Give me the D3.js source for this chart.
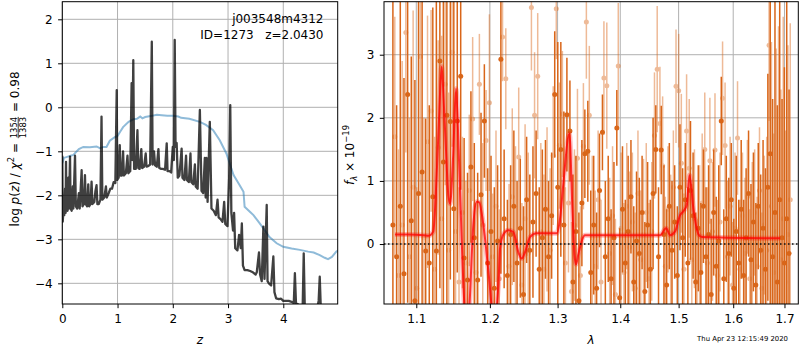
<!DOCTYPE html>
<html>
<head>
<meta charset="utf-8">
<script src="https://d3js.org/d3.v7.min.js"></script>
<style>
  body { margin: 0; background: #fff; }
  text { font-family: "DejaVu Sans", sans-serif; }
</style>
</head>
<body>
<svg id="chart" width="800" height="350"></svg>
<script>
// ---------- redshift probability panel ----------
const zPz = [0.000,0.008,0.020,0.035,0.050,0.060,0.067,0.075,0.095,0.110,0.120,0.140,0.150,0.170,0.190,0.200,0.230,0.245,0.270,0.300,
  0.315,0.350,0.365,0.390,0.410,0.425,0.450,0.470,0.485,0.510,0.530,0.545,0.580,0.600,0.620,0.635,0.660,0.690,0.710,0.725,
  0.760,0.790,0.805,0.840,0.870,0.900,0.930,0.960,0.985,0.995,1.020,1.040,1.055,1.080,1.100,1.115,1.150,1.180,1.195,1.230,
  1.255,1.265,1.285,1.300,1.330,1.360,1.375,1.400,1.430,1.445,1.480,1.510,1.525,1.560,1.590,1.620,1.635,1.660,1.680,1.710,
  1.740,1.755,1.790,1.820,1.860,1.890,1.905,1.940,1.970,2.000,2.020,2.035,2.050,2.070,2.090,2.120,2.160,2.175,2.210,2.240,
  2.255,2.290,2.320,2.335,2.370,2.400,2.415,2.450,2.490,2.505,2.520,2.550,2.580,2.595,2.610,2.630,2.670,2.685,2.700,2.740,
  2.780,2.810,2.830,2.870,2.900,2.930,2.950,2.990,3.020,3.040,3.060,3.090,3.110,3.130,3.170,3.200,3.230,3.250,3.270,3.300,
  3.350,3.400,3.450,3.500,3.520,3.560,3.580,3.610,3.640,3.660,3.700,3.715,3.740,3.780,3.820,3.840,3.870,3.920,3.960,4.000,
  4.100,4.150,4.190,4.210,4.230,4.270,4.300,4.350,4.370,4.390,4.450,4.500,4.550,4.600,4.640,4.660,4.680,4.720,4.780,4.850,4.950];
const logPz = [-1.10,-2.60,-2.35,-2.45,-1.85,-2.40,-1.24,-2.30,-2.35,-1.60,-2.30,-1.12,-2.30,-2.35,-1.80,-2.30,-1.10,-2.25,-2.30,-1.95,
  -2.30,-1.43,-2.25,-2.20,-1.54,-2.20,-2.25,-1.75,-2.25,-2.20,-1.69,-2.20,-2.15,-1.90,-1.77,-2.20,-2.20,-2.10,-0.21,-2.10,
  -2.05,-1.80,-2.05,-1.95,-1.85,-1.85,-1.70,-1.72,0.39,-1.65,-1.60,-0.86,-1.55,-1.55,-1.00,-1.55,-1.50,-1.10,-1.50,-1.45,
  0.55,-1.20,1.07,-1.40,-1.40,-0.52,-1.38,-1.40,-0.95,-1.38,-1.35,-1.05,-1.35,-1.33,-1.30,1.49,-1.30,-1.00,-1.32,-1.35,
  -0.95,-1.38,-1.40,-1.40,-1.42,-0.82,-1.45,-1.45,-1.48,-0.90,-1.20,1.53,-0.90,-0.81,-1.60,-1.55,-0.94,-1.60,-1.65,-1.10,
  -1.65,-1.70,-1.05,-1.70,-1.75,-1.30,-1.80,-1.85,-0.06,-1.00,-1.90,-1.95,-1.15,-2.05,-1.15,-2.15,-0.33,-1.30,-2.30,-2.35,
  -2.45,-2.10,-2.50,-2.55,-2.60,-2.15,-2.65,-2.70,-1.60,0.05,-2.40,-2.80,-2.40,-3.20,-3.25,-2.90,-3.20,-2.64,-3.60,-3.70,
  -3.70,-3.72,-3.75,-3.80,-3.75,-3.30,-3.80,-3.95,-2.71,-3.90,-2.22,-3.95,-4.00,-4.05,-3.39,-4.20,-4.34,-4.36,-4.35,-4.40,
  -4.40,-4.42,-4.45,-3.77,-4.45,-4.48,-4.55,-4.60,-3.32,-4.60,-4.70,-4.80,-4.70,-4.65,-4.40,-3.85,-4.60,-4.80,-4.90,-5.00,-5.10];

const zPrior = [0.00,0.03,0.10,0.15,0.20,0.30,0.38,0.50,0.62,0.68,0.75,0.80,0.86,0.95,1.00,1.05,1.10,1.20,1.29,1.35,
  1.41,1.45,1.50,1.60,1.71,1.80,1.90,2.00,2.10,2.15,2.30,2.49,2.60,2.73,2.85,2.97,3.05,3.10,3.20,3.28,
  3.30,3.40,3.46,3.55,3.64,3.75,3.88,4.00,4.15,4.30,4.45,4.55,4.66,4.75,4.81,4.88,4.96,5.00];
const logPrior = [-1.27,-1.15,-1.12,-1.10,-1.08,-0.95,-0.90,-0.91,-0.89,-0.93,-0.90,-0.90,-0.76,-0.68,-0.65,-0.55,-0.45,-0.33,-0.27,-0.26,
  -0.21,-0.25,-0.22,-0.20,-0.17,-0.18,-0.19,-0.19,-0.21,-0.24,-0.26,-0.33,-0.40,-0.52,-0.75,-1.05,-1.35,-1.54,-1.75,-1.92,
  -2.26,-2.38,-2.45,-2.60,-2.75,-2.95,-3.09,-3.17,-3.21,-3.24,-3.28,-3.30,-3.36,-3.42,-3.45,-3.40,-3.28,-3.25];

const zTicks = [0, 1, 2, 3, 4];
const pzTicks = [-4, -3, -2, -1, 0, 1, 2];

// ---------- spectrum panel ----------
const wlA = [1.0700,1.0747,1.0794,1.0841,1.0888,1.0935,1.0982,1.1029,1.1076,1.1123,1.1170,1.1217,1.1264,1.1311,1.1358,1.1405,1.1452,1.1499,1.1546,1.1593,
  1.1640,1.1687,1.1734,1.1781,1.1828,1.1875,1.1922,1.1969,1.2016,1.2063,1.2110,1.2157,1.2204,1.2251,1.2298,1.2345,1.2392,1.2439,1.2486,1.2533,
  1.2580,1.2627,1.2674,1.2721,1.2768,1.2815,1.2862,1.2909,1.2956,1.3003,1.3050,1.3097,1.3144,1.3191,1.3238,1.3285,1.3332,1.3379,1.3426,1.3473,
  1.3520,1.3567,1.3614,1.3661,1.3708,1.3755,1.3802,1.3849,1.3896,1.3943,1.3990,1.4037,1.4084,1.4131,1.4178,1.4225,1.4272,1.4319,1.4366,1.4413,
  1.4460,1.4507,1.4554,1.4601,1.4648,1.4695,1.4742,1.4789,1.4836,1.4883,1.4930,1.4977,1.5024,1.5071,1.5118,1.5165,1.5212,1.5259,1.5306,1.5353,
  1.5400,1.5447,1.5494,1.5541,1.5588,1.5635,1.5682,1.5729,1.5776,1.5823,1.5870,1.5917,1.5964,1.6011,1.6058,1.6105,1.6152,1.6199,1.6246,1.6293,
  1.6340,1.6387,1.6434,1.6481,1.6528,1.6575,1.6622,1.6669,1.6716,1.6763,1.6810,1.6857,1.6904,1.6951,1.6998,1.7045,1.7092];
const fluxA = [0.30,-0.20,0.60,-0.47,2.37,0.37,-0.90,0.80,1.14,-0.11,-0.30,0.75,-0.11,2.90,1.30,2.04,1.94,0.56,1.95,2.66,
  -0.22,-0.57,1.22,0.10,-0.57,0.78,1.95,-0.30,0.20,-0.70,0.05,2.93,0.40,-0.50,0.15,0.60,-0.30,0.25,-0.80,0.70,
  -0.10,0.35,0.80,-0.40,0.10,0.55,-0.20,0.45,2.37,0.90,1.50,0.30,2.05,1.79,-0.60,0.20,-0.90,0.65,1.43,1.47,
  -0.45,0.30,-0.70,0.85,1.77,-0.20,0.40,-0.55,0.10,1.84,-0.85,0.55,-0.30,0.20,0.75,-0.60,0.05,-0.15,0.50,-0.75,
  0.30,-0.40,0.80,1.50,-0.20,1.49,0.15,-0.65,0.60,-0.10,0.35,-0.50,0.90,0.10,0.70,-0.30,0.85,0.45,-0.60,0.25,
  -0.45,0.60,-0.20,0.15,-0.80,0.50,-0.35,0.05,1.95,-0.55,0.40,-0.15,0.70,-0.70,0.20,-0.30,0.55,-0.50,0.10,0.80,
  -0.25,0.35,-0.65,0.60,-0.10,0.25,-0.40,0.90,1.43,-0.20,0.50,-0.60,0.70,0.10,-0.30,0.40,-0.15];
const errA = [3.8,2.4,3.9,3.1,3.3,2.6,3.5,3.2,3.9,2.1,2.5,3.0,4.1,3.6,3.3,3.0,2.5,3.6,2.4,1.8,
  1.9,1.7,1.2,1.5,1.7,1.3,0.9,1.5,1.2,1.6,1.2,3.4,1.1,1.2,1.1,1.2,1.3,1.1,1.4,1.0,
  1.2,1.2,1.0,1.3,1.4,1.1,1.2,1.0,1.0,2.3,1.7,1.8,0.9,0.8,1.7,1.2,1.4,1.0,0.7,0.8,
  1.3,1.1,1.2,0.9,0.6,1.2,1.0,1.1,1.2,0.6,1.1,1.0,1.0,1.2,0.9,1.2,1.1,1.2,0.9,1.1,
  1.0,1.1,1.2,0.7,1.1,0.7,1.1,1.2,1.0,1.1,0.9,1.1,1.0,1.1,0.9,1.2,1.1,1.0,1.1,1.0,
  1.1,0.9,1.1,1.1,1.2,1.0,1.1,1.2,0.7,1.1,1.0,1.2,0.9,1.1,1.2,1.0,1.1,1.2,1.1,1.0,
  1.2,1.1,1.3,1.0,1.2,1.4,1.6,1.8,3.0,2.5,3.4,2.8,3.6,2.2,3.1,3.5,2.6];

const wlB = [1.0724,1.0771,1.0818,1.0865,1.0912,1.0959,1.1006,1.1053,1.1100,1.1147,1.1194,1.1241,1.1288,1.1335,1.1382,1.1429,1.1476,1.1523,1.1570,1.1617,
  1.1664,1.1711,1.1758,1.1805,1.1852,1.1899,1.1946,1.1993,1.2040,1.2087,1.2134,1.2181,1.2228,1.2275,1.2322,1.2369,1.2416,1.2463,1.2510,1.2557,
  1.2604,1.2651,1.2698,1.2745,1.2792,1.2839,1.2886,1.2933,1.2980,1.3027,1.3074,1.3121,1.3168,1.3215,1.3262,1.3309,1.3356,1.3403,1.3450,1.3497,
  1.3544,1.3591,1.3638,1.3685,1.3732,1.3779,1.3826,1.3873,1.3920,1.3967,1.4014,1.4061,1.4108,1.4155,1.4202,1.4249,1.4296,1.4343,1.4390,1.4437,
  1.4484,1.4531,1.4578,1.4625,1.4672,1.4719,1.4766,1.4813,1.4860,1.4907,1.4954,1.5001,1.5048,1.5095,1.5142,1.5189,1.5236,1.5283,1.5330,1.5377,
  1.5424,1.5471,1.5518,1.5565,1.5612,1.5659,1.5706,1.5753,1.5800,1.5847,1.5894,1.5941,1.5988,1.6035,1.6082,1.6129,1.6176,1.6223,1.6270,1.6317,
  1.6364,1.6411,1.6458,1.6505,1.6552,1.6599,1.6646,1.6693,1.6740,1.6787,1.6834,1.6881,1.6928,1.6975,1.7022,1.7069,1.7116];
const fluxB = [1.70,-0.50,0.30,3.35,-0.20,0.90,-0.70,2.97,0.10,1.62,2.11,-0.40,1.53,0.40,2.53,-0.10,3.04,0.20,-0.60,0.50,
  -0.30,0.85,1.98,-0.45,2.53,0.30,1.64,2.24,-0.20,0.60,-0.55,3.28,2.62,-0.35,0.75,0.05,1.38,-0.65,0.40,-0.15,
  3.75,2.04,2.66,0.20,-0.40,0.55,-0.10,1.40,3.73,1.56,2.06,-0.30,0.65,-0.75,0.30,1.36,-0.50,1.55,3.52,2.04,
  0.10,-0.35,0.70,-0.60,2.63,2.51,-0.15,0.45,-0.80,2.82,0.25,-0.45,0.60,-0.05,0.35,-0.70,0.80,-0.25,0.15,0.50,
  -0.55,0.20,1.72,2.77,1.91,1.24,-0.35,0.55,-0.10,0.90,2.50,2.43,1.28,-0.40,1.79,1.20,-0.25,0.40,-0.60,0.05,
  0.65,1.50,-0.30,1.32,0.20,1.49,-0.50,0.35,2.31,1.56,-0.20,0.60,-0.65,0.25,1.68,-0.40,0.45,-0.15,0.75,-0.55,
  0.10,0.50,-0.35,0.85,-0.70,0.30,-0.10,3.15,0.60,-0.45,0.20,0.95,-0.25,0.40,-0.60,0.15,0.70];
const errB = [1.9,2.0,2.6,1.9,2.2,2.8,1.6,2.2,1.9,2.0,1.6,2.1,1.7,2.9,1.6,2.5,1.5,2.2,1.5,1.2,
  1.3,1.2,1.3,1.1,0.8,1.3,0.8,1.4,1.0,1.2,1.1,0.7,0.8,1.3,1.4,1.5,1.1,1.3,1.5,1.6,
  1.0,1.0,1.0,1.4,1.5,1.3,1.3,1.1,0.8,1.0,1.0,1.2,1.1,1.1,1.2,1.1,1.1,1.0,0.9,1.1,
  1.3,1.2,1.1,1.3,0.9,1.0,1.2,1.1,1.2,1.0,1.2,1.1,1.0,1.2,1.1,1.2,1.0,1.1,1.2,1.1,
  1.2,1.1,1.0,1.0,0.9,1.1,1.1,1.0,1.2,0.9,0.9,0.9,1.1,1.2,0.9,1.1,1.2,1.1,1.0,1.2,
  1.1,0.9,1.2,1.0,1.1,0.9,1.2,1.1,0.9,1.0,1.2,1.1,1.0,1.2,0.9,1.1,1.0,1.2,0.9,1.1,
  1.2,1.0,1.1,1.0,1.2,1.1,1.8,1.2,2.6,2.2,2.9,2.5,2.7,3.2,2.4,3.0,2.8];

const modelWl = [1.0726,1.0900,1.1100,1.1157,1.1223,1.1268,1.1300,1.1335,1.1365,1.1393,1.1425,1.1448,1.1490,1.1529,1.1565,1.1607,1.1652,1.1690,1.1712,1.1767,
  1.1815,1.1850,1.1885,1.1930,1.1978,1.2059,1.2121,1.2145,1.2192,1.2264,1.2337,1.2411,1.2460,1.2509,1.2583,1.2683,1.2988,1.3039,1.3090,1.3183,
  1.3229,1.3261,1.3287,1.3323,1.3428,1.4675,1.4780,1.4850,1.4938,1.5027,1.5085,1.5146,1.5194,1.5267,1.5358,1.5419,1.6913];
const modelFlux = [0.15,0.15,0.14,0.13,0.20,1.09,2.00,2.81,2.20,1.49,0.77,0.64,1.40,2.46,1.50,0.06,-1.10,-1.30,-1.00,0.30,
  0.67,0.66,0.48,0.10,-0.42,-1.20,-0.66,-0.07,0.15,0.22,0.19,-0.13,-0.23,-0.13,0.11,0.17,0.17,0.41,0.97,1.75,
  0.58,-0.16,-0.32,-0.16,0.14,0.14,0.25,0.14,0.20,0.46,0.52,0.62,1.09,0.54,0.15,0.11,0.09];

const wlTicks = [1.1, 1.2, 1.3, 1.4, 1.5, 1.6, 1.7];
const fluxTicks = [0, 1, 2, 3];

// ---------- drawing ----------
const svg = d3.select("#chart");
const FS = 12;
const gridColor = "#b0b0b0";
const orange = "#d9661a";

const L = { x0: 62.3, x1: 337.7, y0: 1.7, y1: 304 };
const R = { x0: 384, x1: 798.3, y0: 1.7, y1: 304 };

const xL = d3.scaleLinear().domain([0, 4.985]).range([L.x0, L.x1]);
const yL = d3.scaleLinear().domain([-4.47, 2.40]).range([L.y1, L.y0]);
const xR = d3.scaleLog().domain([1.0588, 1.728]).range([R.x0, R.x1]);
const yR = d3.scaleLinear().domain([-0.95, 3.84]).range([R.y1, R.y0]);

const defs = svg.append("defs");
function clip(id, b) {
  defs.append("clipPath").attr("id", id).append("rect")
    .attr("x", b.x0).attr("y", b.y0).attr("width", b.x1 - b.x0).attr("height", b.y1 - b.y0);
}
clip("clipL", L); clip("clipR", R);

function grid(b, xs, xv, ys, yv) {
  const g = svg.append("g");
  g.selectAll(".gx").data(xv).enter().append("line")
    .attr("x1", d => xs(d)).attr("x2", d => xs(d)).attr("y1", b.y0).attr("y2", b.y1)
    .attr("stroke", gridColor).attr("stroke-width", 1);
  g.selectAll(".gy").data(yv).enter().append("line")
    .attr("y1", d => ys(d)).attr("y2", d => ys(d)).attr("x1", b.x0).attr("x2", b.x1)
    .attr("stroke", gridColor).attr("stroke-width", 1);
}
grid(L, xL, zTicks, yL, pzTicks);
grid(R, xR, wlTicks, yR, fluxTicks);

// left panel curves
const gL = svg.append("g").attr("clip-path", "url(#clipL)");
gL.append("path")
  .datum(zPrior.map((z, i) => [z, logPrior[i]]))
  .attr("d", d3.line().x(d => xL(d[0])).y(d => yL(d[1])))
  .attr("fill", "none").attr("stroke", "#1f77b4").attr("stroke-opacity", 0.5)
  .attr("stroke-width", 2);
gL.append("path")
  .datum(zPz.map((z, i) => [z, logPz[i]]))
  .attr("d", d3.line().x(d => xL(d[0])).y(d => yL(d[1])))
  .attr("fill", "none").attr("stroke", "#000").attr("stroke-opacity", 0.75)
  .attr("stroke-width", 2.3).attr("stroke-linejoin", "round");

// right panel spectra
const gR = svg.append("g").attr("clip-path", "url(#clipR)");
function spectrum(wl, fl, er, opacity) {
  const pts = wl.map((w, i) => ({ w, f: fl[i], e: er[i] }));
  const g = gR.append("g").attr("opacity", opacity);
  g.selectAll("line").data(pts).enter().append("line")
    .attr("x1", d => xR(d.w)).attr("x2", d => xR(d.w))
    .attr("y1", d => yR(d.f - d.e)).attr("y2", d => yR(d.f + d.e))
    .attr("stroke", orange).attr("stroke-width", 1.5);
  g.selectAll("circle").data(pts).enter().append("circle")
    .attr("cx", d => xR(d.w)).attr("cy", d => yR(d.f)).attr("r", 2.5)
    .attr("fill", orange);
}
spectrum(wlA, fluxA, errA, 1);
spectrum(wlB, fluxB, errB, 0.45);

const modelPts = modelWl.map((w, i) => [w, modelFlux[i]]);
const modelLine = d3.line().x(d => xR(d[0])).y(d => yR(d[1])).curve(d3.curveMonotoneX);
gR.append("path").datum(modelPts).attr("d", modelLine)
  .attr("fill", "none").attr("stroke", "#ff0000").attr("stroke-opacity", 0.25).attr("stroke-width", 5);
gR.append("path").datum(modelPts).attr("d", modelLine)
  .attr("fill", "none").attr("stroke", "#ff0000").attr("stroke-opacity", 0.75).attr("stroke-width", 2);

gR.append("line")
  .attr("x1", R.x0).attr("x2", R.x1).attr("y1", yR(0)).attr("y2", yR(0))
  .attr("stroke", "#111").attr("stroke-width", 1.5).attr("stroke-dasharray", "1.5,2.5");

// axes
function axes(b, xs, xv, xfmt, ys, yv) {
  const ax = svg.append("g").attr("transform", `translate(0,${b.y1})`)
    .call(d3.axisBottom(xs).tickValues(xv).tickFormat(xfmt).tickSize(4.2).tickPadding(6.5));
  const ay = svg.append("g").attr("transform", `translate(${b.x0},0)`)
    .call(d3.axisLeft(ys).tickValues(yv).tickFormat(d3.format("d")).tickSize(4.2).tickPadding(5.5));
  [ax, ay].forEach(a => {
    a.select(".domain").remove();
    a.selectAll("text").attr("font-size", FS).attr("fill", "#000").attr("font-family", "DejaVu Sans");
    a.selectAll("line").attr("stroke", "#000");
  });
  svg.append("rect").attr("x", b.x0).attr("y", b.y0)
    .attr("width", b.x1 - b.x0).attr("height", b.y1 - b.y0)
    .attr("fill", "none").attr("stroke", "#000").attr("stroke-width", 1);
}
axes(L, xL, zTicks, d3.format("d"), yL, pzTicks);
axes(R, xR, wlTicks, d3.format(".1f"), yR, fluxTicks);

// annotations
svg.append("text").attr("x", 323.5).attr("y", 23).attr("text-anchor", "end")
  .attr("font-size", FS).text("j003548m4312");
svg.append("text").attr("x", 323.5).attr("y", 39).attr("text-anchor", "end")
  .attr("font-size", FS).style("white-space", "pre").text("ID=1273   z=2.0430");

svg.append("text").attr("x", (L.x0 + L.x1) / 2).attr("y", 344).attr("text-anchor", "middle")
  .attr("font-size", FS).attr("font-style", "italic").text("z");
svg.append("text").attr("x", (R.x0 + R.x1) / 2).attr("y", 344).attr("text-anchor", "middle")
  .attr("font-size", FS).attr("font-style", "italic").text("λ");

svg.append("text").attr("x", 788).attr("y", 341).attr("text-anchor", "end")
  .attr("font-size", 6.9).text("Thu Apr 23 12:15:49 2020");

// rotated labels built piece by piece
function rotatedLabel(cx, cy, pieces) {
  const g = svg.append("g");
  let x = 0;
  pieces.forEach(p => {
    if (p.frac) {
      const fs = FS * 0.7;
      const t1 = g.append("text").attr("font-size", fs).attr("y", p.numY).text(p.frac[0]);
      const t2 = g.append("text").attr("font-size", fs).attr("y", p.denY).text(p.frac[1]);
      const w = Math.max(t1.node().getComputedTextLength(), t2.node().getComputedTextLength());
      t1.attr("x", x + 1 + (w - t1.node().getComputedTextLength()) / 2);
      t2.attr("x", x + 1 + (w - t2.node().getComputedTextLength()) / 2);
      g.append("line").attr("x1", x + 1).attr("x2", x + 1 + w)
        .attr("y1", p.barY).attr("y2", p.barY).attr("stroke", "#000").attr("stroke-width", 0.8);
      x += w + 2;
    } else {
      const t = g.append("text").attr("x", x).attr("y", p.dy || 0)
        .attr("font-size", p.size || FS).style("white-space", "pre").text(p.t);
      if (p.it) t.attr("font-style", "italic");
      x += t.node().getComputedTextLength();
    }
  });
  g.attr("transform", `translate(${cx},${cy + x / 2}) rotate(-90)`);
}

rotatedLabel(19, 149, [
  { t: "log " },
  { t: "p", it: true },
  { t: "(" },
  { t: "z", it: true },
  { t: ") / " },
  { t: "χ", it: true },
  { t: "2", size: 8.5, dy: -5 },
  { t: " = " },
  { frac: ["1354", "1383"], numY: -2.5, denY: 7, barY: -0.8 },
  { t: " = 0.98" }
]);

rotatedLabel(354, 155, [
  { t: "f", it: true },
  { t: "λ", it: true, size: 8.5, dy: 3 },
  { t: " × 10" },
  { t: "−19", size: 8.5, dy: -5 }
]);
</script>
</body>
</html>
